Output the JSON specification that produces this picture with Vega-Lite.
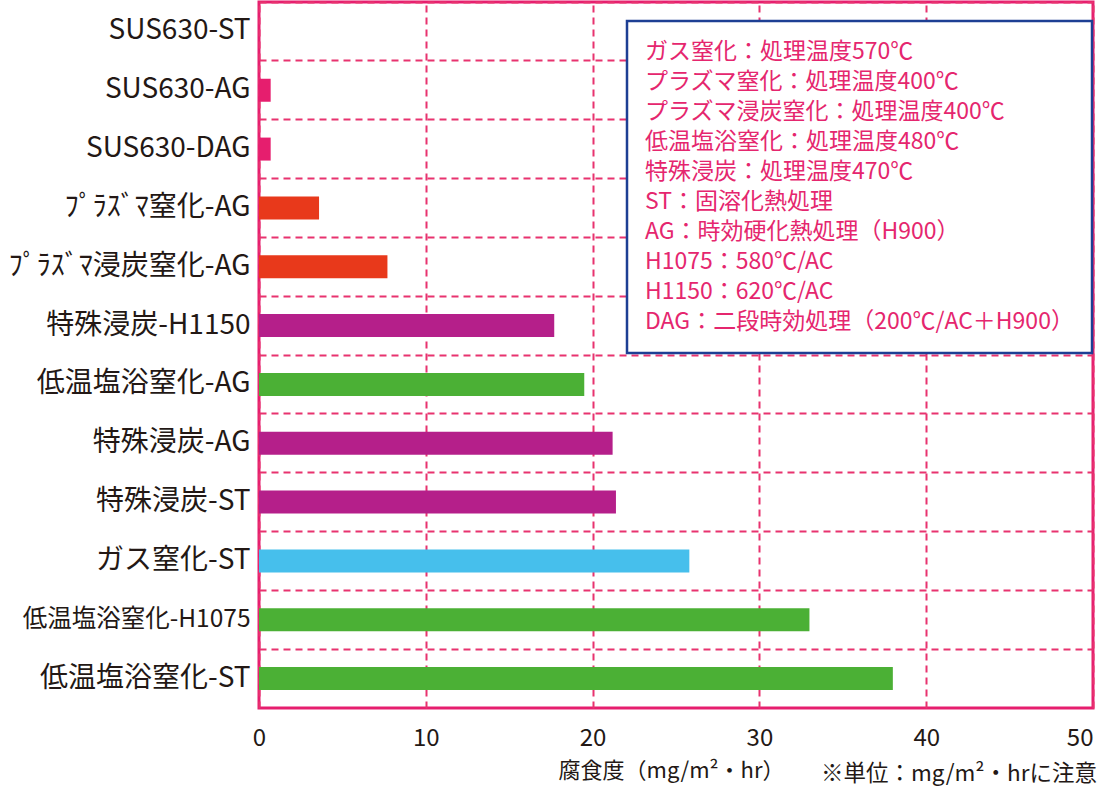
{
  "$schema": "https://vega.github.io/schema/vega-lite/v6.json",
  "autosize": "none",
  "width": 834,
  "height": 706,
  "padding": {"left": 259, "top": 2, "right": 7, "bottom": 87},
  "background": "white",
  "config": {
    "font": "Noto Sans CJK JP",
    "view": {"stroke": "#E61E6E", "strokeWidth": 3},
    "legend": {"strokeWidth": 2.5}
  },
  "title": {
    "text": "※単位：mg/m²・hrに注意",
    "orient": "bottom",
    "anchor": "end",
    "frame": "group",
    "fontSize": 22.5,
    "fontWeight": "normal",
    "color": "#231815",
    "offset": -18,
    "dx": 4
  },
  "layer": [
    {
      "data": {
        "values": [
          {"sample": "SUS630-ST", "rate": 0, "group": "SUS630"},
          {"sample": "SUS630-AG", "rate": 0.7, "group": "SUS630"},
          {"sample": "SUS630-DAG", "rate": 0.7, "group": "SUS630"},
          {"sample": "ﾌﾟﾗｽﾞﾏ窒化-AG", "rate": 3.6, "group": "プラズマ"},
          {"sample": "ﾌﾟﾗｽﾞﾏ浸炭窒化-AG", "rate": 7.7, "group": "プラズマ"},
          {"sample": "特殊浸炭-H1150", "rate": 17.7, "group": "特殊浸炭"},
          {"sample": "低温塩浴窒化-AG", "rate": 19.5, "group": "低温塩浴窒化"},
          {"sample": "特殊浸炭-AG", "rate": 21.2, "group": "特殊浸炭"},
          {"sample": "特殊浸炭-ST", "rate": 21.4, "group": "特殊浸炭"},
          {"sample": "ガス窒化-ST", "rate": 25.8, "group": "ガス窒化"},
          {"sample": "低温塩浴窒化-H1075", "rate": 33.0, "group": "低温塩浴窒化"},
          {"sample": "低温塩浴窒化-ST", "rate": 38.0, "group": "低温塩浴窒化"}
        ]
      },
      "mark": {"type": "bar", "size": 23},
      "encoding": {
        "y": {
          "field": "sample",
          "type": "nominal",
          "sort": null,
          "title": null,
          "scale": {"paddingInner": 0, "paddingOuter": 0},
          "axis": {
            "domain": false,
            "ticks": false,
            "labelPadding": 9,
            "labelFontSize": {"condition": {"test": "datum.value == '低温塩浴窒化-H1075'", "value": 24.5}, "value": 28},
            "labelColor": "#231815",
            "labelLimit": 300,
            "grid": true,
            "bandPosition": 0,
            "gridColor": "#E8336F",
            "gridWidth": 2,
            "gridDash": [7, 5]
          }
        },
        "x": {
          "field": "rate",
          "type": "quantitative",
          "title": "腐食度（mg/m²・hr）",
          "scale": {"domain": [0, 50], "nice": false},
          "axis": {
            "values": [0, 10, 20, 30, 40, 50],
            "domain": false,
            "ticks": false,
            "labelPadding": 18,
            "labelFontSize": 24,
            "labelColor": "#231815",
            "labelFlush": false,
            "labelAlign": {"condition": {"test": "datum.value == 50", "value": "right"}, "value": "center"},
            "grid": true,
            "gridColor": "#E8336F",
            "gridWidth": 2,
            "gridDash": [7, 5],
            "titleFontSize": 22,
            "titleFontWeight": "normal",
            "titleColor": "#231815",
            "titlePadding": 10,
            "titleX": 412
          }
        },
        "color": {
          "field": "group",
          "type": "nominal",
          "scale": {
            "domain": ["SUS630", "プラズマ", "特殊浸炭", "低温塩浴窒化", "ガス窒化"],
            "range": ["#E61E6E", "#E8391B", "#B51F8A", "#4BB035", "#46BFEC"]
          },
          "legend": null
        }
      }
    },
    {
      "data": {
        "values": [
          {"note": "ガス窒化：処理温度570℃"},
          {"note": "プラズマ窒化：処理温度400℃"},
          {"note": "プラズマ浸炭窒化：処理温度400℃"},
          {"note": "低温塩浴窒化：処理温度480℃"},
          {"note": "特殊浸炭：処理温度470℃"},
          {"note": "ST：固溶化熱処理"},
          {"note": "AG：時効硬化熱処理（H900）"},
          {"note": "H1075：580℃/AC"},
          {"note": "H1150：620℃/AC"},
          {"note": "DAG：二段時効処理（200℃/AC＋H900）"}
        ]
      },
      "mark": {"type": "point", "opacity": 0},
      "encoding": {
        "shape": {
          "field": "note",
          "type": "nominal",
          "sort": null,
          "legend": {
            "title": null,
            "orient": "none",
            "legendX": 368,
            "legendY": 19,
            "padding": 19,
            "strokeColor": "#1D3F94",
            "fillColor": "white",
            "symbolSize": 1,
            "symbolOpacity": 0,
            "symbolStrokeWidth": 0,
            "labelOffset": -24,
            "labelFontSize": 23,
            "labelColor": "#E5266E",
            "labelLimit": 600,
            "rowPadding": 6
          }
        }
      }
    }
  ]
}
